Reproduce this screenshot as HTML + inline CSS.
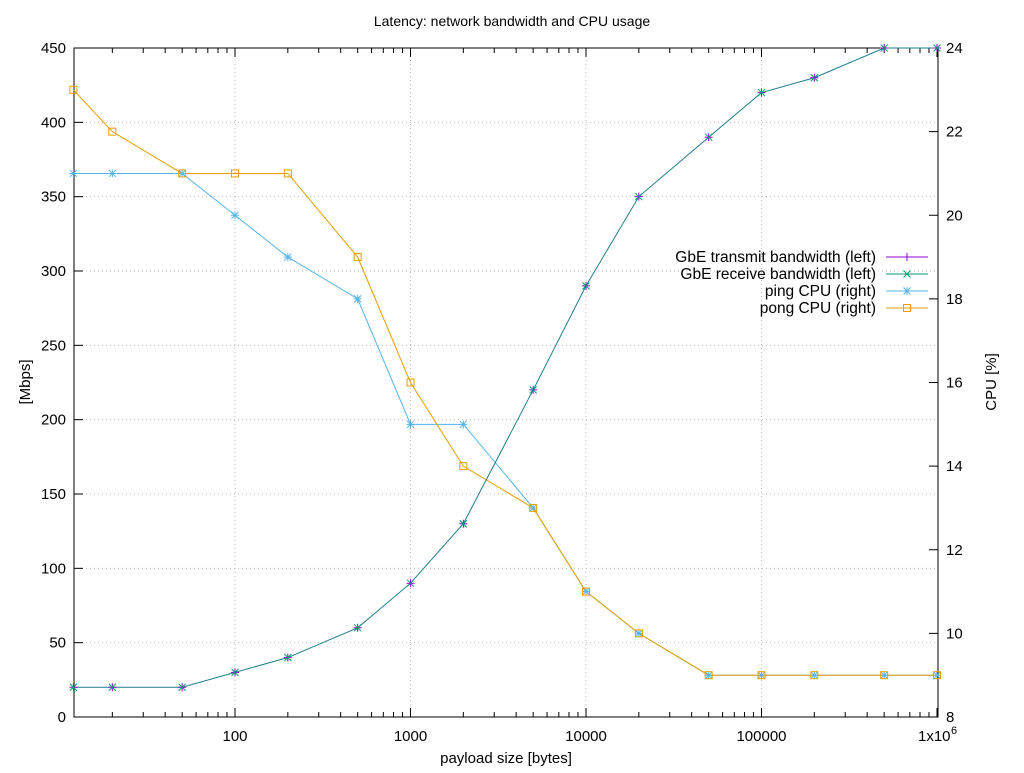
<!DOCTYPE html>
<html><head><meta charset="utf-8"><style>body{margin:0;background:#fff}</style></head><body>
<svg width="1024" height="768" xmlns="http://www.w3.org/2000/svg" font-family="Liberation Sans, sans-serif" font-size="15">
<rect width="1024" height="768" fill="#fff"/>
<text x="512" y="26" text-anchor="middle" font-size="14">Latency: network bandwidth and CPU usage</text>
<g id="grid" stroke="#bbb" stroke-dasharray="1,3" stroke-width="1"></g>
<g id="ticks" stroke="#000" stroke-width="1"></g>
<rect x="74" y="48" width="864" height="669" fill="none" stroke="#000" stroke-width="1"/>
<g id="labels" font-size="15"></g>
<text x="30" y="382" text-anchor="middle" transform="rotate(-90 30 382)">[Mbps]</text>
<text x="996" y="382" text-anchor="middle" transform="rotate(-90 996 382)">CPU [%]</text>
<text x="506" y="763" text-anchor="middle">payload size [bytes]</text>
<g id="series"></g>
<g font-size="15.5" text-anchor="end">
<text x="876" y="262">GbE transmit bandwidth (left)</text>
<text x="876" y="279">GbE receive bandwidth (left)</text>
<text x="876" y="296">ping CPU (right)</text>
<text x="876" y="313">pong CPU (right)</text>
</g>
<g id="leg"></g>
</svg>
<script>
const NS="http://www.w3.org/2000/svg";
function el(p,t,a){const e=document.createElementNS(NS,t);for(const k in a)e.setAttribute(k,a[k]);document.getElementById(p).appendChild(e);return e;}
const X=v=>235+(Math.log10(v)-2)*175.5, YL=v=>717-v*669/450, YR=v=>717-(v-8)*669/16;
for(let v=0;v<=450;v+=50){const y=YL(v);if(v>0&&v<450)el('grid','line',{x1:74,x2:938,y1:y,y2:y});el('ticks','line',{x1:74,x2:83,y1:y,y2:y});
 const t=el('labels','text',{x:66,y:y+5,'text-anchor':'end'});t.textContent=v;}
for(let v=8;v<=24;v+=2){const y=YR(v);el('ticks','line',{x1:929,x2:938,y1:y,y2:y});const t=el('labels','text',{x:946,y:y+5});t.textContent=v;}
for(let d=1;d<=6;d++){for(let m=1;m<10;m++){const v=m*Math.pow(10,d);if(v<12||v>1e6)continue;const x=X(v);
 if(m==1){if(d>=2&&d<6)el('grid','line',{x1:x,x2:x,y1:48,y2:717});el('ticks','line',{x1:x,x2:x,y1:717,y2:708});el('ticks','line',{x1:x,x2:x,y1:48,y2:57});
  if(d>=2){const t=el('labels','text',{x:x,y:741,'text-anchor':'middle'});t.textContent=d==6?'':v;}}
 else{el('ticks','line',{x1:x,x2:x,y1:717,y2:712});el('ticks','line',{x1:x,x2:x,y1:48,y2:53});}}}
{const t=el('labels','text',{x:918,y:741});t.textContent='1x10';const s=el('labels','text',{x:951,y:734,'font-size':'11'});s.textContent='6';}
const xs=[12,20,50,100,200,500,1000,2000,5000,10000,20000,50000,1e5,2e5,5e5,1e6];
const bw=[20,20,20,30,40,60,90,130,220,290,350,390,420,430,450,450];
const ping=[21,21,21,20,19,18,15,15,13,11,10,9,9,9,9,9];
const pong=[23,22,21,21,21,19,16,14,13,11,10,9,9,9,9,9];
function line(ys,f,c){el('series','polyline',{points:xs.map((x,i)=>X(x)+','+f(ys[i])).join(' '),fill:'none',stroke:c,'stroke-width':1});}
function plus(g,x,y,c){el(g,'path',{d:`M${x-4},${y}h8M${x},${y-4}v8`,stroke:c,'stroke-width':1});}
function cross(g,x,y,c){el(g,'path',{d:`M${x-3.5},${y-3.5}l7,7M${x-3.5},${y+3.5}l7,-7`,stroke:c,'stroke-width':1});}
function star(g,x,y,c){plus(g,x,y,c);cross(g,x,y,c);}
function sq(g,x,y,c){el(g,'rect',{x:x-3.5,y:y-3.5,width:7,height:7,fill:'none',stroke:c,'stroke-width':1});}
line(ping,YR,'#56b4e9');line(pong,YR,'#e69f00');line(bw,YL,'#1f7f8a');
xs.forEach((x,i)=>{const px=X(x);star('series',px,YR(ping[i]),'#56b4e9');sq('series',px,YR(pong[i]),'#e69f00');plus('series',px,YL(bw[i]),'#9400d3');cross('series',px,YL(bw[i]),'#009e73');});
const L=[['#9400d3',plus],['#009e73',cross],['#56b4e9',star],['#e69f00',sq]];
L.forEach((l,i)=>{const y=257+i*17;el('leg','line',{x1:886,x2:928,y1:y,y2:y,stroke:l[0],'stroke-width':1});l[1]('leg',907,y,l[0]);});
</script>
</body></html>
